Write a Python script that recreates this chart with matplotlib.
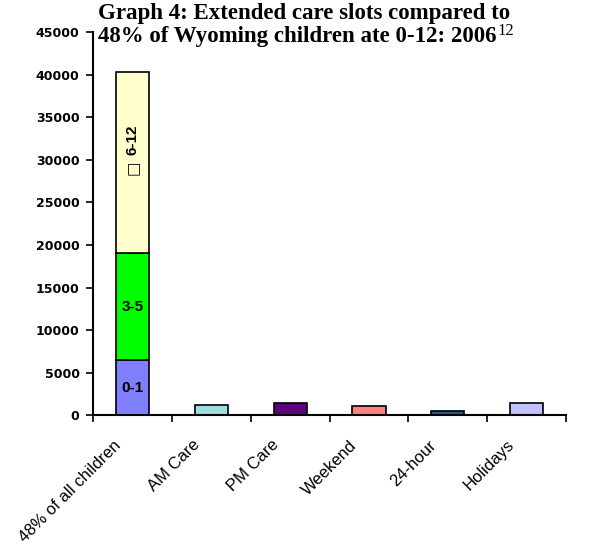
import numpy as np
import matplotlib
matplotlib.use('Agg')
import matplotlib.pyplot as plt

# data
categories = ['48% of all children', 'AM Care', 'PM Care', 'Weekend', '24-hour', 'Holidays']
age_groups = ['0-1', '3-5', '6-12']
age_values = [6450, 12600, 21300]          # stacked parts of the first bar
slot_values = [1180, 1370, 1060, 440, 1370]  # remaining bars
age_colors = ['#8080FF', '#00FF00', '#FFFFCC']
slot_colors = ['#A0DEDE', '#5C0080', '#FF8080', '#1F5F8A', '#C0C0FF']
yticks = np.arange(0, 45001, 5000)

plt.rcParams['font.family'] = ['Liberation Sans', 'DejaVu Sans']

fig = plt.figure(figsize=(6.11, 5.58), dpi=100)
ax = fig.add_axes([0.153, 0.256, 0.773, 0.686])

x = np.arange(len(categories))
w = 0.42

bottom = 0
for val, col, lab in zip(age_values, age_colors, age_groups):
	ax.bar(x[0], val, w, bottom=bottom, color=col, edgecolor='black', lw=1.2)
	if lab == '6-12':
		# rotated label with the little legend box under it
		ax.text(x[0], bottom + val * 0.625, lab, rotation=90, ha='center', va='center',
			fontsize=11, fontweight='bold')
		ax.text(x[0], bottom + val * 0.47, '\u25a1', rotation=90, ha='center', va='center',
			fontsize=11, family='DejaVu Sans')
	else:
		ax.text(x[0], bottom + val / 2, lab, ha='center', va='center', fontsize=11, fontweight='bold')
	bottom += val

ax.bar(x[1:], slot_values, w, color=slot_colors, edgecolor='black', lw=1.2)

ax.set_xlim(-0.5, len(categories) - 0.5)
ax.set_ylim(0, 45000)
ax.set_yticks(yticks)
ax.set_yticklabels([str(v) for v in yticks], fontsize=9, fontweight='bold', family='DejaVu Sans')
ax.set_xticks(x - 0.25)
ax.set_xticklabels(categories, rotation=45, ha='right', rotation_mode='anchor', fontsize=12)
ax.tick_params(axis='x', length=0, pad=16)
ax.set_xticks(np.arange(-0.5, len(categories)), minor=True)
ax.tick_params(axis='x', which='minor', length=5, width=1.2, direction='out')
ax.tick_params(axis='y', length=5, width=1.2, direction='out', pad=5)

for s in ['top', 'right']:
	ax.spines[s].set_visible(False)
for s in ['left', 'bottom']:
	ax.spines[s].set_linewidth(1.5)

fig.text(0.16, 0.975, 'Graph 4: Extended care slots compared to',
	ha='left', va='center', fontsize=16.5, fontweight='bold', family='Liberation Serif')
t2 = fig.text(0.16, 0.935, '48% of Wyoming children ate 0-12: 2006',
	ha='left', va='center', fontsize=16.5, fontweight='bold', family='Liberation Serif')
fig.canvas.draw()
bb = t2.get_window_extent().transformed(fig.transFigure.inverted())
fig.text(bb.x1 + 0.002, 0.937, '12', ha='left', va='baseline', fontsize=12, family='Liberation Serif')

fig.savefig('out.png', dpi=100)
